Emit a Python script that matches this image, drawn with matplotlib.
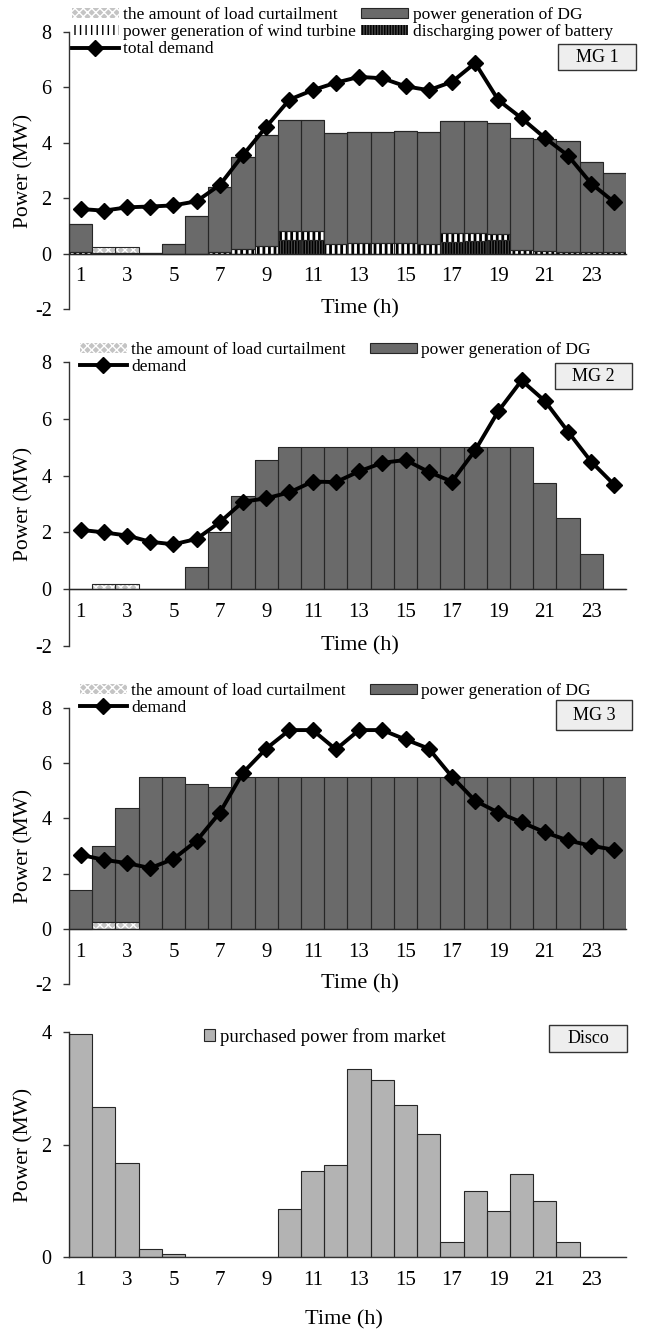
import matplotlib.pyplot as plt
from matplotlib.patches import Patch, Rectangle
from matplotlib.lines import Line2D

plt.rcParams['font.family'] = ['Liberation Serif', 'DejaVu Serif']
plt.rcParams['axes.unicode_minus'] = False

hours = list(range(1, 25))
tick_hours = list(range(1, 24, 2))

# MG 1
mg1_battery = [0, 0, 0, 0, 0, 0, 0, 0, 0, 0.5, 0.5, 0, 0, 0, 0, 0, 0.42, 0.45, 0.48, 0, 0, 0, 0, 0]
mg1_wind = [0.05, 0.03, 0.03, 0.02, 0, 0, 0.07, 0.18, 0.27, 0.3, 0.32, 0.35, 0.37, 0.37, 0.38, 0.36,
            0.34, 0.31, 0.21, 0.12, 0.1, 0.06, 0.04, 0.06]
mg1_dg = [1.03, 0, 0, 0, 0.36, 1.36, 2.34, 3.32, 4.01, 4.01, 4.02, 4.02, 4.02, 4.02, 4.04, 4.03,
          4.01, 4.02, 4.04, 4.04, 4.02, 4.02, 3.27, 2.86]
mg1_curtail = [0, 0.2, 0.2, 0, 0, 0, 0, 0, 0, 0, 0, 0, 0, 0, 0, 0, 0, 0, 0, 0, 0, 0, 0, 0]
mg1_demand = [1.61, 1.55, 1.67, 1.70, 1.74, 1.89, 2.48, 3.56, 4.58, 5.56, 5.90, 6.17, 6.38, 6.33,
              6.04, 5.90, 6.20, 6.88, 5.54, 4.89, 4.18, 3.54, 2.53, 1.85]

# MG 2
mg2_curtail = [0, 0.2, 0.2, 0, 0, 0, 0, 0, 0, 0, 0, 0, 0, 0, 0, 0, 0, 0, 0, 0, 0, 0, 0, 0]
mg2_dg = [0, 0, 0, 0, 0, 0.78, 2.03, 3.29, 4.55, 5, 5, 5, 5, 5, 5, 5, 5, 5, 5, 5, 3.74, 2.49, 1.24, 0]
mg2_demand = [2.09, 2.0, 1.89, 1.67, 1.58, 1.77, 2.36, 3.08, 3.2, 3.41, 3.79, 3.77, 4.15, 4.45,
              4.55, 4.13, 3.79, 4.89, 6.27, 7.35, 6.63, 5.55, 4.49, 3.67]

# MG 3
mg3_curtail = [0, 0.25, 0.25, 0, 0, 0, 0, 0, 0, 0, 0, 0, 0, 0, 0, 0, 0, 0, 0, 0, 0, 0, 0, 0]
mg3_dg = [1.4, 2.76, 4.14, 5.51, 5.51, 5.25, 5.15, 5.5, 5.5, 5.5, 5.5, 5.5, 5.5, 5.5, 5.5, 5.5,
          5.5, 5.5, 5.5, 5.5, 5.5, 5.5, 5.5, 5.5]
mg3_demand = [2.68, 2.5, 2.38, 2.2, 2.53, 3.19, 4.21, 5.66, 6.53, 7.2, 7.2, 6.5, 7.2, 7.2, 6.86,
              6.53, 5.51, 4.64, 4.21, 3.86, 3.5, 3.2, 3.01, 2.86]

# Disco
disco_purchase = [3.96, 2.67, 1.68, 0.15, 0.05, 0, 0, 0, 0, 0.85, 1.53, 1.64, 3.35, 3.14, 2.71,
                  2.18, 0.27, 1.17, 0.82, 1.47, 0.99, 0.26, 0, 0]

EDGE = '#262626'
DG_C = '#6a6a6a'
CURT_C = '#c4c4c4'
DISCO_C = '#b3b3b3'

W, H = 646, 1332
fig = plt.figure(figsize=(W / 100, H / 100), dpi=100)


def fx(px):
    return px / W


def fy(py):
    return 1 - py / H


def make_axes(top, bottom, ymin, ymax, yticks):
    ax = fig.add_axes([fx(69), fy(bottom), fx(626) - fx(69), (bottom - top) / H])
    ax.set_xlim(0.5, 24.5)
    ax.set_ylim(ymin, ymax)
    for s in ['top', 'right']:
        ax.spines[s].set_visible(False)
    ax.spines['bottom'].set_position(('data', 0))
    for s in ['left', 'bottom']:
        ax.spines[s].set_color('#333333')
        ax.spines[s].set_linewidth(1.0)
    ax.set_xticks(tick_hours)
    ax.set_xticklabels([str(h) for h in tick_hours])
    ax.set_yticks(yticks)
    ax.set_yticklabels([str(t) for t in yticks])
    ax.tick_params(axis='x', length=0, pad=10, labelsize=15)
    ax.tick_params(axis='y', length=4.5, width=1.0, color='#333333', pad=8, labelsize=14.5, direction='out')
    ax.set_ylabel('Power (MW)', fontsize=15.5)
    ax.yaxis.set_label_coords(-0.081, 0.5)
    ax.yaxis.label.set_verticalalignment('center')
    return ax


def bars(ax, vals, bottom, face, hatch=None, hcolor=None, hlw=None):
    b = ax.bar(hours, vals, width=1.0, bottom=bottom, color=face,
               edgecolor=hcolor if hatch else face, linewidth=0, hatch=hatch, zorder=2)
    if hlw is not None:
        for p in b:
            p.set_hatch_linewidth(hlw)
    ax.bar(hours, vals, width=1.0, bottom=bottom, fill=False, edgecolor=EDGE, linewidth=0.8, zorder=3)


def demand_line(ax, vals):
    ax.plot(hours, vals, color='black', lw=2.8, marker='D', markersize=8, zorder=5, clip_on=False)


def tag(x0, y0, x1, y1, text):
    fig.add_artist(Rectangle((fx(x0), fy(y1)), fx(x1) - fx(x0), (y1 - y0) / H,
                             transform=fig.transFigure, facecolor='#eeeeee', edgecolor='#333333', lw=1.0))
    fig.text(fx((x0 + x1) / 2), fy((y0 + y1) / 2), text, ha='center', va='center', fontsize=13)


def time_label(ax, x, y):
    ax.set_xlabel('Time (h)', fontsize=16)
    ax.xaxis.set_label_coords(x, y)
    ax.xaxis.label.set_verticalalignment('center')


def curt_handle():
    return Patch(facecolor=CURT_C, edgecolor='white', hatch='xxxx', lw=0)


dg_handle = Patch(facecolor=DG_C, edgecolor=EDGE, lw=0.8)
wind_handle = Patch(facecolor='white', edgecolor='black', hatch='|||', lw=0)
batt_handle = Patch(facecolor='#4a4a4a', edgecolor='black', hatch='||||||', lw=0)
demand_handle = Line2D([], [], color='black', lw=2.8, marker='D', markersize=8)

legend_kw = dict(loc='upper left', bbox_transform=fig.transFigure, frameon=False, fontsize=12.5,
                 handlelength=2.7, handleheight=0.5, handletextpad=0.25,
                 labelspacing=0.06, borderpad=0, borderaxespad=0, ncol=2)

# ---- MG 1 ----
ax1 = make_axes(32, 309, -2, 8, [-2, 0, 2, 4, 6, 8])
b0 = [0] * 24
b1 = [a + b for a, b in zip(mg1_battery, mg1_wind)]
b2 = [a + b for a, b in zip(b1, mg1_dg)]
bars(ax1, mg1_battery, b0, '#4a4a4a', '||||||', 'black', 1.2)
bars(ax1, mg1_wind, mg1_battery, 'white', '|||', 'black', 2.0)
bars(ax1, mg1_dg, b1, DG_C)
bars(ax1, mg1_curtail, b2, CURT_C, 'xxxx', 'white', 1.0)
demand_line(ax1, mg1_demand)
time_label(ax1, 0.522, 0.0)
ax1.legend([curt_handle(), wind_handle, demand_handle, dg_handle, batt_handle],
           ['the amount of load curtailment', 'power generation of wind turbine', 'total demand',
            'power generation of DG', 'discharging power of battery'],
           bbox_to_anchor=(fx(72), fy(7)), columnspacing=0.3, **legend_kw)
tag(558, 44, 636, 70, 'MG 1')

# ---- MG 2 ----
ax2 = make_axes(362, 646, -2, 8, [-2, 0, 2, 4, 6, 8])
bars(ax2, mg2_curtail, b0, CURT_C, 'xxxx', 'white', 1.0)
bars(ax2, mg2_dg, b0, DG_C)
demand_line(ax2, mg2_demand)
time_label(ax2, 0.522, 0.0)
ax2.legend([curt_handle(), demand_handle, dg_handle],
           ['the amount of load curtailment', 'demand', 'power generation of DG'],
           bbox_to_anchor=(fx(80), fy(342)), columnspacing=1.4, **legend_kw)
tag(555, 363, 632, 389, 'MG 2')

# ---- MG 3 ----
ax3 = make_axes(708, 984, -2, 8, [-2, 0, 2, 4, 6, 8])
bars(ax3, mg3_curtail, b0, CURT_C, 'xxxx', 'white', 1.0)
bars(ax3, mg3_dg, mg3_curtail, DG_C)
demand_line(ax3, mg3_demand)
time_label(ax3, 0.522, 0.0)
ax3.legend([curt_handle(), demand_handle, dg_handle],
           ['the amount of load curtailment', 'demand', 'power generation of DG'],
           bbox_to_anchor=(fx(80), fy(683)), columnspacing=1.4, **legend_kw)
tag(556, 700, 632, 730, 'MG 3')

# ---- Disco ----
ax4 = make_axes(1032, 1257, 0, 4, [0, 2, 4])
bars(ax4, disco_purchase, b0, DISCO_C)
time_label(ax4, 0.494, -0.28)
ax4.legend([Patch(facecolor=DISCO_C, edgecolor=EDGE, lw=0.8)], ['purchased power from market'],
           loc='upper left', bbox_to_anchor=(fx(204), fy(1028)), bbox_transform=fig.transFigure,
           frameon=False, fontsize=13.5, handlelength=0.6, handleheight=0.6, handletextpad=0.25,
           borderpad=0, borderaxespad=0)
tag(549, 1025, 627, 1052, 'Disco')

fig.savefig('out.png', dpi=100)
